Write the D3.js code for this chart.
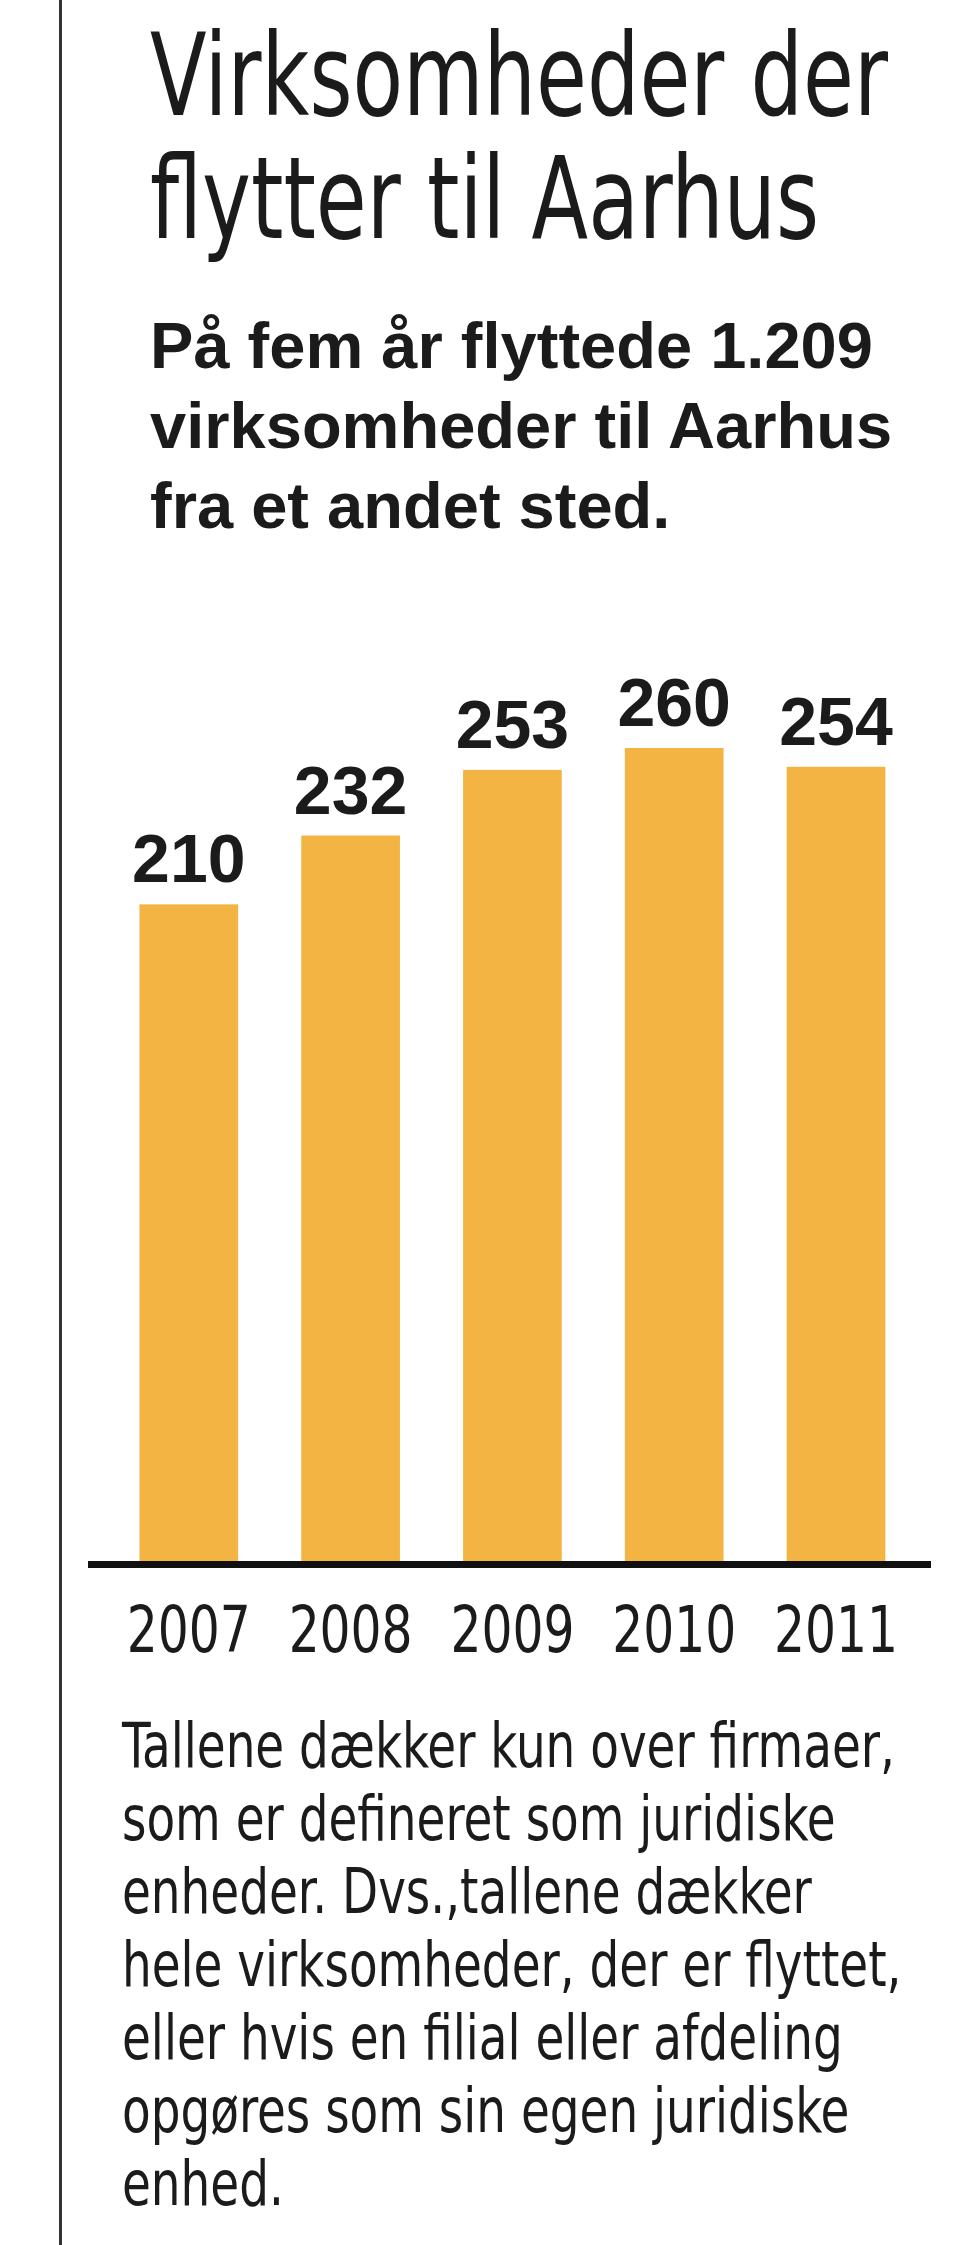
<!DOCTYPE html>
<html>
<head>
<meta charset="utf-8">
<script src="https://cdn.jsdelivr.net/npm/d3@7"></script>
<style>
  body { margin: 0; background: #fff; }
  .narrow { font-family: "Liberation Sans Narrow", "DejaVu Sans Condensed", sans-serif; }
  .bold { font-family: "Liberation Sans", Arial, sans-serif; font-weight: bold; }
</style>
</head>
<body>
<div id="chart"></div>
<script>
const years = ["2007", "2008", "2009", "2010", "2011"],
  movedIn = [210, 232, 253, 260, 254],
  titleLines = ["Virksomheder der", "flytter til Aarhus"],
  subtitleLines = ["På fem år flyttede 1.209", "virksomheder til Aarhus", "fra et andet sted."],
  noteLines = [
    "Tallene dækker kun over firmaer,",
    "som er defineret som juridiske",
    "enheder. Dvs.,tallene dækker",
    "hele virksomheder, der er flyttet,",
    "eller hvis en filial eller afdeling",
    "opgøres som sin egen juridiske",
    "enhed."
  ];

const width = 960,
  height = 2245,
  ink = '#1b1b1b',
  barColor = '#f3b443',
  baseY = 1561;

const svg = d3.select('#chart')
  .append('svg')
  .attr('viewBox', [0, 0, width, height])
  .attr('width', width)
  .attr('height', height);

// narrow a block of lines horizontally so its first line gets the wanted width
function squeeze(sel, firstWidth) {
  const f = firstWidth / sel.node().getComputedTextLength();
  sel.each(function () {
    const t = d3.select(this),
      x0 = +t.attr('x') || 0;
    t.attr('x', 0)
      .attr('transform', `translate(${x0},0) scale(${f},1)`);
  });
}

// frame line on the left
svg.append('line')
  .attr('x1', 60.5).attr('x2', 60.5)
  .attr('y1', 0).attr('y2', height)
  .attr('stroke', '#333')
  .attr('stroke-width', 3);

const title = svg.append('g')
  .selectAll('text')
  .data(titleLines)
  .join('text')
  .attr('class', 'narrow')
  .attr('fill', ink)
  .attr('font-size', 114)
  .attr('x', 150)
  .attr('y', (d, i) => 115 + i * 123)
  .text(d => d);
squeeze(title, 738);

const subtitle = svg.append('g')
  .selectAll('text')
  .data(subtitleLines)
  .join('text')
  .attr('class', 'bold')
  .attr('fill', ink)
  .attr('font-size', 64)
  .attr('x', 150)
  .attr('y', (d, i) => 368 + i * 80)
  .text(d => d);
squeeze(subtitle, 723);

const x = d3.scaleBand()
  .domain(years)
  .range([88, 931])
  .paddingInner(0.39)
  .paddingOuter(0.3)
  .align(0.53);

const y = d3.scaleLinear()
  .domain([0, d3.max(movedIn)])
  .range([baseY, 748]);

const data = years.map((year, i) => ({ year, value: movedIn[i] }));

const bars = svg.append('g')
  .selectAll('g')
  .data(data)
  .join('g');

bars.append('rect')
  .attr('x', d => x(d.year))
  .attr('y', d => y(d.value))
  .attr('width', x.bandwidth())
  .attr('height', d => y(0) - y(d.value))
  .attr('fill', barColor);

bars.append('text')
  .attr('class', 'bold')
  .attr('x', d => x(d.year) + x.bandwidth() / 2)
  .attr('y', d => y(d.value) - 22)
  .attr('text-anchor', 'middle')
  .attr('font-size', 68)
  .attr('fill', ink)
  .text(d => d.value);

// baseline
svg.append('line')
  .attr('x1', 88).attr('x2', 931)
  .attr('y1', baseY + 3.5).attr('y2', baseY + 3.5)
  .attr('stroke', '#111')
  .attr('stroke-width', 7);

const xAxis = svg.append('g')
  .attr('transform', `translate(0,${baseY + 7})`)
  .call(d3.axisBottom(x).tickSize(0).tickPadding(84));

xAxis.select('.domain').remove();
const yearLabels = xAxis.selectAll('text')
  .attr('class', 'narrow')
  .attr('font-size', 64)
  .attr('fill', ink)
  .attr('dy', null);
squeeze(yearLabels, 124);

const note = svg.append('g')
  .selectAll('text')
  .data(noteLines)
  .join('text')
  .attr('class', 'narrow')
  .attr('fill', ink)
  .attr('font-size', 62)
  .attr('x', 122)
  .attr('y', (d, i) => 1767 + i * 73)
  .text(d => d);
squeeze(note, 773);
</script>
</body>
</html>
